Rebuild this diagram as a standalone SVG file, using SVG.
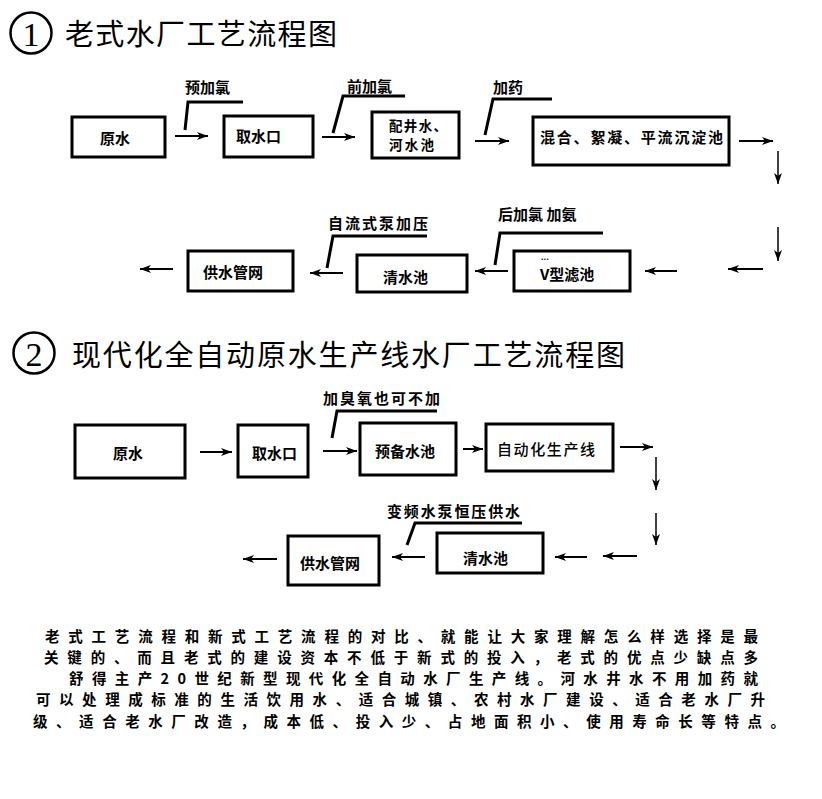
<svg xmlns="http://www.w3.org/2000/svg" width="822" height="799" viewBox="0 0 822 799">
<style>
.box{fill:#fff;stroke:#000;stroke-width:3}
.lbl{font-family:"Noto Sans CJK SC","Noto Sans",sans-serif;font-weight:bold;font-size:15px;fill:#000;dominant-baseline:central}
.lbln{font-family:"Noto Sans CJK SC","Noto Sans",sans-serif;font-weight:500;font-size:15px;fill:#000;dominant-baseline:central}
.title{font-family:"Noto Sans CJK SC",sans-serif;font-size:29px;fill:#000;dominant-baseline:central}
.num{font-family:"Liberation Serif",serif;font-size:34px;fill:#000;dominant-baseline:central;text-anchor:middle}
.body{font-family:"Noto Sans CJK SC",sans-serif;font-size:14.5px;font-weight:bold;fill:#000;dominant-baseline:central}
.arr{stroke:#000;stroke-width:2;fill:none;marker-end:url(#ah)}
.arrt{stroke:#000;stroke-width:1.5;fill:none;marker-end:url(#ah)}
.call{stroke:#000;stroke-width:3;fill:none}
</style>
<defs>
<marker id="ah" markerUnits="userSpaceOnUse" markerWidth="12" markerHeight="8" refX="11" refY="4" orient="auto">
<path d="M0,0 L11,4 L0,8 L3,4 Z" fill="#000"/>
</marker>
</defs>
<rect width="822" height="799" fill="#fff"/>

<g id="title1">
<circle cx="31" cy="33" r="20.5" fill="none" stroke="#000" stroke-width="2.5"/>
<text class="num" x="31" y="34">1</text>
<text class="title" x="65" y="32" textLength="272" lengthAdjust="spacing">老式水厂工艺流程图</text>
</g>
<g id="title2">
<circle cx="34" cy="353" r="20.5" fill="none" stroke="#000" stroke-width="2.5"/>
<text class="num" x="34" y="354">2</text>
<text class="title" x="72" y="353" textLength="553" lengthAdjust="spacing">现代化全自动原水生产线水厂工艺流程图</text>
</g>

<!-- Section 1 nodes -->
<g id="n1_yuanshui"><rect class="box" x="72" y="117" width="93" height="40"/><text class="lbl" x="100" y="137">原水</text></g>
<g id="n1_qushuikou"><rect class="box" x="224" y="116" width="89" height="41"/><text class="lbl" x="236" y="135">取水口</text></g>
<g id="n1_peijing"><rect class="box" x="372" y="112" width="87" height="46"/><text class="lbl" x="389" y="125" style="font-size:13.5px" textLength="58" lengthAdjust="spacing">配井水、</text><text class="lbl" x="389" y="144" style="font-size:13.5px" textLength="45" lengthAdjust="spacing">河水池</text></g>
<g id="n1_hunhe"><rect class="box" x="533" y="117" width="196" height="48"/><text class="lbl" x="540" y="136" textLength="183" lengthAdjust="spacing">混合、絮凝、平流沉淀池</text></g>
<g id="n1_vlvchi"><rect class="box" x="514" y="251" width="116" height="40"/><text class="lbl" x="540" y="273">V型滤池</text><text class="lbl" x="541" y="256" style="font-size:8px">...</text></g>
<g id="n1_qingshui"><rect class="box" x="357" y="255" width="110" height="37"/><text class="lbl" x="383" y="276">清水池</text></g>
<g id="n1_gongshui"><rect class="box" x="188" y="251" width="105" height="40"/><text class="lbl" x="203" y="271">供水管网</text></g>

<!-- Section 2 nodes -->
<g id="n2_yuanshui"><rect class="box" x="75" y="425" width="110" height="53"/><text class="lbl" x="113" y="452">原水</text></g>
<g id="n2_qushuikou"><rect class="box" x="238" y="425" width="70" height="52"/><text class="lbl" x="252" y="452">取水口</text></g>
<g id="n2_yubei"><rect class="box" x="360" y="423" width="96" height="52"/><text class="lbl" x="375" y="450">预备水池</text></g>
<g id="n2_zidonghua"><rect class="box" x="486" y="424" width="127" height="47"/><text class="lbln" x="497" y="448" textLength="98" lengthAdjust="spacing">自动化生产线</text></g>
<g id="n2_qingshui"><rect class="box" x="437" y="533" width="106" height="40"/><text class="lbl" x="463" y="557">清水池</text></g>
<g id="n2_gongshui"><rect class="box" x="288" y="536" width="91" height="49"/><text class="lbl" x="300" y="562">供水管网</text></g>

<g id="connectors">
<!-- section 1 -->
<line class="arr" x1="175" y1="136" x2="208" y2="136"/>
<line class="arr" x1="322" y1="137" x2="355" y2="137"/>
<line class="arr" x1="475" y1="141" x2="509" y2="141"/>
<line class="arr" x1="739" y1="141" x2="773" y2="141"/>
<line class="arrt" x1="778" y1="151" x2="778" y2="184"/>
<line class="arrt" x1="778" y1="227" x2="778" y2="261"/>
<line class="arr" x1="763" y1="269" x2="728" y2="269"/>
<line class="arr" x1="677" y1="271" x2="645" y2="271"/>
<line class="arr" x1="508" y1="271" x2="475" y2="271"/>
<line class="arr" x1="343" y1="273" x2="310" y2="273"/>
<line class="arr" x1="173" y1="269" x2="140" y2="269"/>
<!-- section 2 -->
<line class="arr" x1="200" y1="452" x2="232" y2="452"/>
<line class="arr" x1="323" y1="451" x2="357" y2="451"/>
<line class="arr" x1="463" y1="449" x2="483" y2="449"/>
<line class="arr" x1="620" y1="447" x2="653" y2="447"/>
<line class="arrt" x1="656" y1="457" x2="656" y2="490"/>
<line class="arrt" x1="656" y1="513" x2="656" y2="545"/>
<line class="arr" x1="637" y1="556" x2="603" y2="556"/>
<line class="arr" x1="587" y1="557" x2="555" y2="557"/>
<line class="arr" x1="425" y1="557" x2="392" y2="557"/>
<line class="arr" x1="277" y1="559" x2="243" y2="559"/>
</g>

<g id="callouts">
<polyline class="call" points="185,130 188,102 243,102"/>
<text class="lbl" x="185" y="86">预加氯</text>
<polyline class="call" points="333,133 343,96 405,96"/>
<text class="lbl" x="347" y="85">前加氯</text>
<polyline class="call" points="485,135 493,99 552,99"/>
<text class="lbl" x="493" y="86">加药</text>
<polyline class="call" points="327,268 333,236 427,236"/>
<text class="lbl" x="328" y="222" textLength="100" lengthAdjust="spacing">自流式泵加压</text>
<polyline class="call" points="495,265 500,233 603,233"/>
<text class="lbl" x="498" y="213">后加氯 加氨</text>
<polyline class="call" points="332,438 337,411 437,411"/>
<text class="lbl" x="323" y="397" textLength="117" lengthAdjust="spacing">加臭氧也可不加</text>
<polyline class="call" points="407,545 415,523 522,523"/>
<text class="lbl" x="387" y="510" textLength="133" lengthAdjust="spacing">变频水泵恒压供水</text>
</g>

<g id="bodytext">
<text class="body" x="45" y="635" textLength="713" lengthAdjust="spacing">老式工艺流程和新式工艺流程的对比、就能让大家理解怎么样选择是最</text>
<text class="body" x="44" y="656" textLength="714" lengthAdjust="spacing">关键的、而且老式的建设资本不低于新式的投入，老式的优点少缺点多</text>
<text class="body" x="69" y="677" textLength="689" lengthAdjust="spacing">舒得主产20世纪新型现代化全自动水厂生产线。河水井水不用加药就</text>
<text class="body" x="36" y="698" textLength="729" lengthAdjust="spacing">可以处理成标准的生活饮用水、适合城镇、农村水厂建设、适合老水厂升</text>
<text class="body" x="33" y="720" textLength="752" lengthAdjust="spacing">级、适合老水厂改造，成本低、投入少、占地面积小、使用寿命长等特点。</text>
</g>
</svg>
